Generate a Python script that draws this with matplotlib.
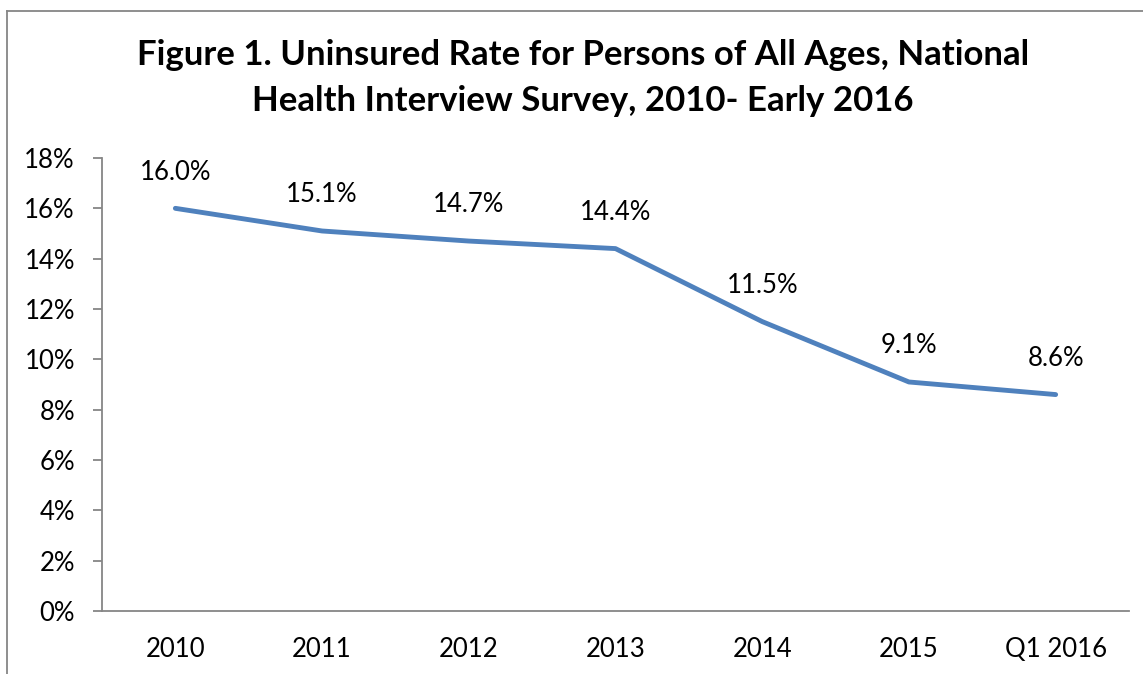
import matplotlib
matplotlib.use("Agg")
import matplotlib.pyplot as plt
from matplotlib.lines import Line2D
from matplotlib.ticker import FuncFormatter, MultipleLocator

categories = ["2010", "2011", "2012", "2013", "2014", "2015", "Q1 2016"]
uninsured_rate = [16.0, 15.1, 14.7, 14.4, 11.5, 9.1, 8.6]
title_line1 = "Figure 1. Uninsured Rate for Persons of All Ages, National"
title_line2 = "Health Interview Survey, 2010- Early 2016"

plt.rcParams['font.family'] = ['Lato', 'DejaVu Sans']

W, H = 1143, 674
fig = plt.figure(figsize=(W / 100, H / 100), dpi=100)
ax = fig.add_axes([102 / W, 1 - 611 / H, (1129 - 102) / W, (611 - 158) / H])

x = list(range(len(categories)))
ax.plot(x, uninsured_rate, color="#4F81BD", linewidth=3.5, solid_capstyle="round",
        solid_joinstyle="round")
for xi, v in zip(x, uninsured_rate):
    ax.annotate(f"{v:.1f}%", (xi, v), xytext=(0, 26), textcoords="offset points",
                ha="center", va="center", fontsize=18.5, color="black")

ax.set_xlim(-0.5, len(categories) - 0.5)
ax.set_ylim(0, 18)
ax.yaxis.set_major_locator(MultipleLocator(2))
ax.yaxis.set_major_formatter(FuncFormatter(lambda v, p: f"{v:.0f}%"))
ax.set_xticks(x)
ax.set_xticklabels(categories)

for s in ["top", "right"]:
    ax.spines[s].set_visible(False)
for s in ["left", "bottom"]:
    ax.spines[s].set_color("#868686")
    ax.spines[s].set_linewidth(1.3)
ax.tick_params(axis="y", length=6.5, width=1.3, color="#868686", pad=13, labelsize=18.5)
ax.tick_params(axis="x", length=0, pad=19, labelsize=18.5)

fig.text(583 / W, 1 - 55 / H, title_line1, ha="center", va="center", fontsize=25,
         fontweight="bold")
fig.text(583 / W, 1 - 101 / H, title_line2, ha="center", va="center", fontsize=25,
         fontweight="bold")

fig.add_artist(Line2D([7 / W, 7 / W], [0, 1 - 11 / H], transform=fig.transFigure,
                      color="#868686", linewidth=1.3))
fig.add_artist(Line2D([7 / W, 1], [1 - 11 / H, 1 - 11 / H], transform=fig.transFigure,
                      color="#868686", linewidth=1.3))

fig.savefig("out.png", dpi=100)
